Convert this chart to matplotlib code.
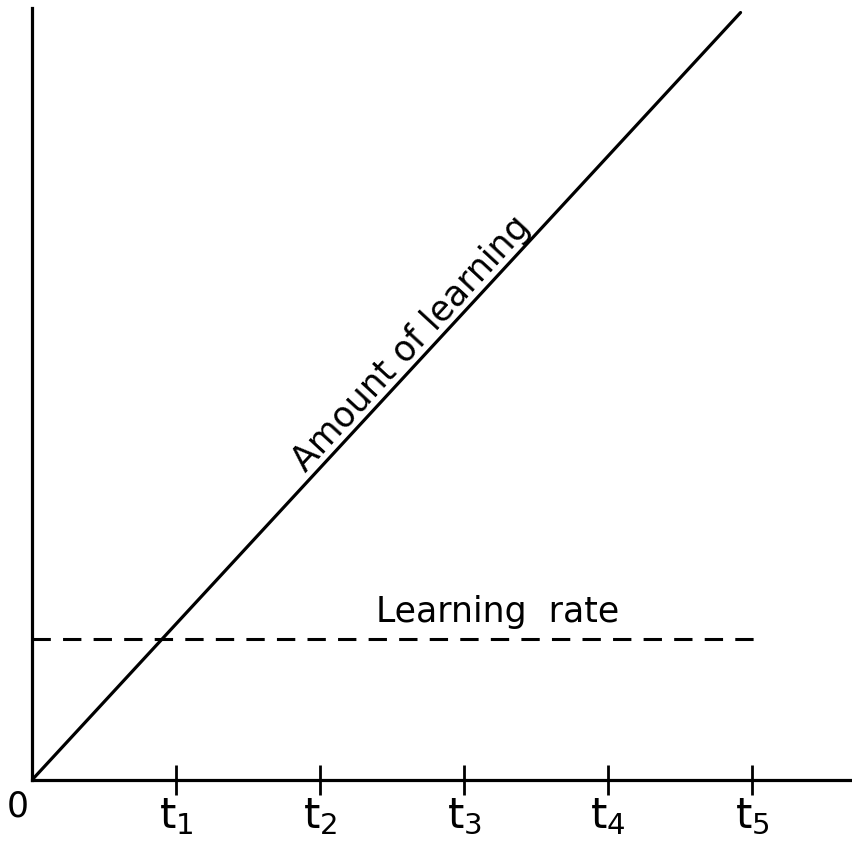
import numpy as np
import matplotlib
matplotlib.use("Agg")
import matplotlib.pyplot as plt

# Data (time units on x, arbitrary learning units on y)
t_line = [0.0, 4.92]
amount = [0.0, 5.6]
rate_t = [0.0, 5.03]
rate = [1.03, 1.03]
tick_pos = [1, 2, 3, 4, 5]
tick_labels = ["t$_1$", "t$_2$", "t$_3$", "t$_4$", "t$_5$"]

plt.rcParams['font.family'] = ['DejaVu Sans']
plt.rcParams['mathtext.fontset'] = 'custom'
plt.rcParams['mathtext.rm'] = 'DejaVu Sans'
plt.rcParams['mathtext.it'] = 'DejaVu Sans'

fig = plt.figure(figsize=(8.53, 8.59), dpi=100)
ax = fig.add_axes([0.0375, 0.092, 0.959, 0.899])

ax.plot(t_line, amount, color='black', lw=2.3, solid_capstyle='round')
ax.plot(rate_t, rate, color='black', lw=2.2, linestyle=(0, (6, 4)))

ax.set_xlim(0, 5.68)
ax.set_ylim(0, 5.635)
ax.spines['top'].set_visible(False)
ax.spines['right'].set_visible(False)
ax.spines['left'].set_linewidth(2.3)
ax.spines['bottom'].set_linewidth(2.3)

ax.set_xticks(tick_pos)
ax.set_xticklabels(tick_labels, fontsize=30)
ax.tick_params(axis='x', direction='inout', length=22, width=2, pad=0)
ax.set_yticks([])

ax.text(-0.1, -0.07, "0", fontsize=25, ha='center', va='top')

# rotated label along the line
ang = np.degrees(np.arctan(768 / 708))
ax.text(2.72, 3.1, "Amount of learning", fontsize=25, rotation=ang,
        rotation_mode='anchor', ha='center', va='bottom')
ax.text(3.23, 1.1, "Learning  rate", fontsize=25, ha='center', va='bottom')

fig.savefig("out.png", dpi=100)
